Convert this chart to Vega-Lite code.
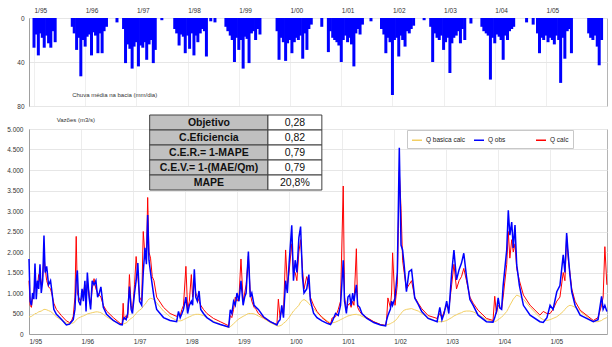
{
  "$schema": "https://vega.github.io/schema/vega-lite/v6.json",
  "background": "white",
  "padding": {"left": 6, "top": 6, "right": 3, "bottom": 1},
  "config": {
    "font": "Liberation Sans",
    "view": {"stroke": "#b4b4b4", "strokeWidth": 1},
    "axis": {"labelFont": "Liberation Sans", "labelFontSize": 6.5, "labelColor": "#333333", "ticks": false, "tickSize": 0, "domainColor": "#a0a0a0", "gridColor": "#e6e6e6", "gridWidth": 1, "labelOverlap": false, "labelBound": false, "labelFlush": false}
  },
  "spacing": 23,
  "bounds": "flush",
  "datasets": {
    "rain": [
      {"d":"1995-01-01","r":27},{"d":"1995-01-15","r":15},{"d":"1995-02-01","r":34},{"d":"1995-02-15","r":14},{"d":"1995-03-01","r":18},{"d":"1995-03-15","r":27},{"d":"1995-04-01","r":16},{"d":"1995-04-15","r":23},{"d":"1995-05-01","r":27},{"d":"1995-05-15","r":12},{"d":"1995-06-01","r":22},
      {"d":"1995-10-01","r":8},{"d":"1995-10-15","r":14},{"d":"1995-11-01","r":29},{"d":"1995-11-15","r":18},{"d":"1995-12-01","r":53},{"d":"1995-12-15","r":20},{"d":"1996-01-01","r":26},{"d":"1996-01-15","r":17},{"d":"1996-02-01","r":15},{"d":"1996-02-15","r":34},{"d":"1996-03-01","r":13},{"d":"1996-03-15","r":16},{"d":"1996-04-01","r":32},{"d":"1996-04-15","r":14},{"d":"1996-05-01","r":32},{"d":"1996-05-15","r":12},{"d":"1996-06-01","r":8},{"d":"1996-08-15","r":4},
      {"d":"1996-10-01","r":10},{"d":"1996-10-15","r":41},{"d":"1996-11-01","r":24},{"d":"1996-11-15","r":28},{"d":"1996-12-01","r":46},{"d":"1996-12-15","r":26},{"d":"1997-01-01","r":22},{"d":"1997-01-15","r":44},{"d":"1997-02-01","r":25},{"d":"1997-02-15","r":27},{"d":"1997-03-01","r":22},{"d":"1997-03-15","r":38},{"d":"1997-04-01","r":24},{"d":"1997-04-15","r":20},{"d":"1997-05-01","r":41},{"d":"1997-05-15","r":29},{"d":"1997-07-01","r":2},
      {"d":"1997-10-01","r":10},{"d":"1997-10-15","r":14},{"d":"1997-11-01","r":25},{"d":"1997-11-15","r":15},{"d":"1997-12-01","r":17},{"d":"1997-12-15","r":32},{"d":"1998-01-01","r":16},{"d":"1998-01-15","r":28},{"d":"1998-02-01","r":14},{"d":"1998-02-15","r":34},{"d":"1998-03-01","r":16},{"d":"1998-03-15","r":22},{"d":"1998-04-01","r":14},{"d":"1998-04-15","r":10},{"d":"1998-05-01","r":12},{"d":"1998-05-15","r":35},{"d":"1998-06-15","r":3},{"d":"1998-07-15","r":4},
      {"d":"1998-10-01","r":8},{"d":"1998-10-15","r":12},{"d":"1998-11-01","r":16},{"d":"1998-11-15","r":20},{"d":"1998-12-01","r":40},{"d":"1998-12-15","r":18},{"d":"1999-01-01","r":29},{"d":"1999-01-15","r":20},{"d":"1999-02-01","r":46},{"d":"1999-02-15","r":17},{"d":"1999-03-01","r":19},{"d":"1999-03-15","r":41},{"d":"1999-04-01","r":14},{"d":"1999-04-15","r":12},{"d":"1999-05-01","r":20},{"d":"1999-05-15","r":10},{"d":"1999-06-01","r":15},
      {"d":"1999-10-01","r":12},{"d":"1999-10-15","r":38},{"d":"1999-11-01","r":18},{"d":"1999-11-15","r":22},{"d":"1999-12-01","r":39},{"d":"1999-12-15","r":23},{"d":"2000-01-01","r":20},{"d":"2000-01-15","r":32},{"d":"2000-02-01","r":22},{"d":"2000-02-15","r":18},{"d":"2000-03-01","r":20},{"d":"2000-03-15","r":16},{"d":"2000-04-01","r":37},{"d":"2000-04-15","r":14},{"d":"2000-05-01","r":29},{"d":"2000-05-15","r":10},{"d":"2000-06-01","r":6},{"d":"2000-08-15","r":8},
      {"d":"2000-10-01","r":31},{"d":"2000-10-15","r":12},{"d":"2000-11-01","r":18},{"d":"2000-11-15","r":20},{"d":"2000-12-01","r":22},{"d":"2000-12-15","r":25},{"d":"2001-01-01","r":40},{"d":"2001-01-15","r":20},{"d":"2001-02-01","r":16},{"d":"2001-02-15","r":22},{"d":"2001-03-01","r":18},{"d":"2001-03-15","r":24},{"d":"2001-04-01","r":44},{"d":"2001-04-15","r":14},{"d":"2001-05-01","r":10},{"d":"2001-05-15","r":15},{"d":"2001-06-01","r":6},{"d":"2001-08-01","r":3},
      {"d":"2001-10-15","r":10},{"d":"2001-11-01","r":15},{"d":"2001-11-15","r":32},{"d":"2001-12-01","r":18},{"d":"2001-12-15","r":22},{"d":"2002-01-01","r":70},{"d":"2002-01-15","r":20},{"d":"2002-02-01","r":18},{"d":"2002-02-15","r":35},{"d":"2002-03-01","r":16},{"d":"2002-03-15","r":20},{"d":"2002-04-01","r":26},{"d":"2002-04-15","r":12},{"d":"2002-05-01","r":14},{"d":"2002-05-15","r":10},{"d":"2002-06-01","r":7},{"d":"2002-08-15","r":2},
      {"d":"2002-10-01","r":8},{"d":"2002-10-15","r":40},{"d":"2002-11-01","r":14},{"d":"2002-11-15","r":18},{"d":"2002-12-01","r":20},{"d":"2002-12-15","r":16},{"d":"2003-01-01","r":29},{"d":"2003-01-15","r":22},{"d":"2003-02-01","r":18},{"d":"2003-02-15","r":50},{"d":"2003-03-01","r":23},{"d":"2003-03-15","r":18},{"d":"2003-04-01","r":16},{"d":"2003-04-15","r":12},{"d":"2003-05-01","r":23},{"d":"2003-05-15","r":10},{"d":"2003-06-01","r":20},{"d":"2003-07-15","r":5},
      {"d":"2003-10-01","r":8},{"d":"2003-10-15","r":12},{"d":"2003-11-01","r":14},{"d":"2003-11-15","r":16},{"d":"2003-12-01","r":56},{"d":"2003-12-15","r":18},{"d":"2004-01-01","r":23},{"d":"2004-01-15","r":15},{"d":"2004-02-01","r":17},{"d":"2004-02-15","r":20},{"d":"2004-03-01","r":38},{"d":"2004-03-15","r":16},{"d":"2004-04-01","r":20},{"d":"2004-04-15","r":12},{"d":"2004-05-01","r":10},{"d":"2004-05-15","r":8},{"d":"2004-08-15","r":4},{"d":"2004-10-01","r":6},
      {"d":"2004-11-01","r":14},{"d":"2004-11-15","r":32},{"d":"2004-12-01","r":18},{"d":"2004-12-15","r":20},{"d":"2005-01-01","r":16},{"d":"2005-01-15","r":22},{"d":"2005-02-01","r":18},{"d":"2005-02-15","r":20},{"d":"2005-03-01","r":24},{"d":"2005-03-15","r":16},{"d":"2005-04-01","r":20},{"d":"2005-04-15","r":59},{"d":"2005-05-01","r":18},{"d":"2005-05-15","r":37},{"d":"2005-06-01","r":12},{"d":"2005-06-15","r":10},{"d":"2005-07-01","r":32},
      {"d":"2005-11-01","r":14},{"d":"2005-11-15","r":18},{"d":"2005-12-01","r":20},{"d":"2005-12-15","r":16},{"d":"2006-01-01","r":26},{"d":"2006-01-15","r":43},{"d":"2006-02-01","r":20}
    ],
    "flow": [
      {"d":"1995-01-01","o":1830,"c":1300,"b":420},{"d":"1995-01-09","o":800,"c":700,"b":420},{"d":"1995-01-18","o":700,"c":650,"b":430},{"d":"1995-01-26","o":1000,"c":900,"b":450},{"d":"1995-02-04","o":850,"c":1000,"b":470},{"d":"1995-02-12","o":1720,"c":1300,"b":500},{"d":"1995-02-21","o":850,"c":1100,"b":500},{"d":"1995-03-01","o":1300,"c":1150,"b":520},{"d":"1995-03-10","o":1100,"c":1450,"b":540},{"d":"1995-03-19","o":1700,"c":1300,"b":550},{"d":"1995-03-28","o":1000,"c":1200,"b":560},{"d":"1995-04-07","o":1300,"c":1400,"b":580},{"d":"1995-04-16","o":2400,"c":1900,"b":600},{"d":"1995-04-24","o":1500,"c":1600,"b":600},{"d":"1995-05-05","o":1650,"c":1300,"b":590},{"d":"1995-05-18","o":1200,"c":1150,"b":570},{"d":"1995-06-01","o":1300,"c":1100,"b":550},{"d":"1995-06-12","o":1000,"c":950,"b":520},{"d":"1995-06-24","o":600,"c":750,"b":480},{"d":"1995-07-12","o":480,"c":600,"b":420},{"d":"1995-08-16","o":360,"c":450,"b":340},{"d":"1995-09-20","o":220,"c":320,"b":270},{"d":"1995-10-12","o":240,"c":280,"b":250},
      {"d":"1995-10-26","o":300,"c":320,"b":260},{"d":"1995-11-07","o":350,"c":430,"b":270},{"d":"1995-11-19","o":600,"c":900,"b":300},{"d":"1995-11-28","o":1300,"c":2380,"b":340},{"d":"1995-12-06","o":1550,"c":1000,"b":370},{"d":"1995-12-15","o":800,"c":900,"b":390},{"d":"1995-12-27","o":700,"c":800,"b":410},{"d":"1996-01-08","o":1100,"c":900,"b":430},{"d":"1996-01-17","o":800,"c":1000,"b":440},{"d":"1996-01-28","o":1300,"c":1200,"b":460},{"d":"1996-02-05","o":550,"c":700,"b":470},{"d":"1996-02-14","o":1500,"c":1300,"b":490},{"d":"1996-02-26","o":900,"c":1000,"b":500},{"d":"1996-03-08","o":600,"c":700,"b":510},{"d":"1996-03-19","o":1300,"c":1100,"b":520},{"d":"1996-04-01","o":1200,"c":1350,"b":530},{"d":"1996-04-14","o":1300,"c":1100,"b":540},{"d":"1996-04-26","o":900,"c":1000,"b":540},{"d":"1996-05-08","o":1000,"c":950,"b":530},{"d":"1996-05-19","o":1150,"c":900,"b":520},{"d":"1996-06-05","o":650,"c":700,"b":480},{"d":"1996-06-28","o":480,"c":560,"b":420},{"d":"1996-08-14","o":330,"c":400,"b":320},{"d":"1996-10-01","o":230,"c":260,"b":250},{"d":"1996-10-15","o":220,"c":240,"b":230},
      {"d":"1996-10-22","o":350,"c":750,"b":240},{"d":"1996-10-28","o":400,"c":350,"b":250},{"d":"1996-11-12","o":350,"c":450,"b":270},{"d":"1996-11-23","o":500,"c":400,"b":300},{"d":"1996-12-05","o":1160,"c":1450,"b":350},{"d":"1996-12-17","o":600,"c":700,"b":380},{"d":"1996-12-26","o":500,"c":550,"b":400},{"d":"1997-01-10","o":1000,"c":1200,"b":450},{"d":"1997-01-21","o":1300,"c":1890,"b":500},{"d":"1997-02-02","o":1730,"c":1400,"b":550},{"d":"1997-02-14","o":800,"c":900,"b":580},{"d":"1997-03-01","o":700,"c":800,"b":620},{"d":"1997-03-12","o":1500,"c":2500,"b":680},{"d":"1997-03-24","o":2100,"c":1900,"b":720},{"d":"1997-04-03","o":1700,"c":1800,"b":770},{"d":"1997-04-12","o":2900,"c":3330,"b":820},{"d":"1997-04-21","o":1800,"c":2000,"b":850},{"d":"1997-05-02","o":1500,"c":1850,"b":870},{"d":"1997-05-14","o":1200,"c":1400,"b":860},{"d":"1997-05-26","o":900,"c":1300,"b":840},{"d":"1997-06-14","o":600,"c":900,"b":760},{"d":"1997-08-01","o":400,"c":650,"b":560},{"d":"1997-09-16","o":330,"c":500,"b":420},{"d":"1997-11-01","o":300,"c":430,"b":330},
      {"d":"1997-11-14","o":550,"c":500,"b":320},{"d":"1997-11-26","o":400,"c":450,"b":320},{"d":"1997-12-08","o":500,"c":600,"b":330},{"d":"1997-12-19","o":600,"c":700,"b":350},{"d":"1998-01-05","o":900,"c":1650,"b":380},{"d":"1998-01-17","o":500,"c":600,"b":400},{"d":"1998-01-29","o":700,"c":800,"b":420},{"d":"1998-02-12","o":800,"c":1450,"b":440},{"d":"1998-02-21","o":700,"c":900,"b":460},{"d":"1998-03-05","o":1580,"c":1300,"b":470},{"d":"1998-03-15","o":900,"c":1000,"b":480},{"d":"1998-03-26","o":800,"c":900,"b":480},{"d":"1998-04-07","o":1050,"c":800,"b":480},{"d":"1998-04-19","o":600,"c":700,"b":470},{"d":"1998-05-08","o":500,"c":600,"b":450},{"d":"1998-06-01","o":400,"c":500,"b":400},{"d":"1998-07-17","o":290,"c":380,"b":310},{"d":"1998-09-03","o":230,"c":300,"b":240},{"d":"1998-11-01","o":170,"c":200,"b":160},
      {"d":"1998-11-12","o":590,"c":450,"b":180},{"d":"1998-11-23","o":500,"c":400,"b":210},{"d":"1998-12-05","o":800,"c":600,"b":250},{"d":"1998-12-17","o":700,"c":900,"b":290},{"d":"1998-12-29","o":1000,"c":800,"b":330},{"d":"1999-01-12","o":800,"c":900,"b":370},{"d":"1999-01-26","o":1300,"c":1830,"b":400},{"d":"1999-02-10","o":700,"c":800,"b":430},{"d":"1999-02-21","o":900,"c":1000,"b":450},{"d":"1999-03-03","o":1000,"c":1200,"b":470},{"d":"1999-03-19","o":2010,"c":1900,"b":500},{"d":"1999-04-01","o":900,"c":1000,"b":500},{"d":"1999-04-12","o":1000,"c":800,"b":500},{"d":"1999-04-28","o":700,"c":650,"b":490},{"d":"1999-05-12","o":650,"c":600,"b":470},{"d":"1999-05-28","o":600,"c":500,"b":440},{"d":"1999-07-03","o":420,"c":400,"b":380},{"d":"1999-08-19","o":300,"c":300,"b":280},{"d":"1999-10-05","o":220,"c":230,"b":200},
      {"d":"1999-10-15","o":300,"c":850,"b":190},{"d":"1999-10-27","o":350,"c":400,"b":200},{"d":"1999-11-08","o":700,"c":600,"b":220},{"d":"1999-11-20","o":400,"c":500,"b":260},{"d":"1999-12-05","o":1300,"c":2050,"b":300},{"d":"1999-12-17","o":1000,"c":1200,"b":350},{"d":"1999-12-29","o":1700,"c":1500,"b":400},{"d":"2000-01-17","o":2650,"c":2200,"b":500},{"d":"2000-01-29","o":1300,"c":1500,"b":560},{"d":"2000-02-10","o":1800,"c":1500,"b":600},{"d":"2000-02-22","o":1500,"c":1300,"b":650},{"d":"2000-03-07","o":2350,"c":2000,"b":700},{"d":"2000-03-19","o":2620,"c":2300,"b":780},{"d":"2000-04-01","o":1400,"c":1600,"b":820},{"d":"2000-04-12","o":1000,"c":1100,"b":840},{"d":"2000-05-01","o":1100,"c":1400,"b":800},{"d":"2000-05-16","o":1450,"c":1200,"b":740},{"d":"2000-05-26","o":840,"c":900,"b":700},{"d":"2000-06-18","o":510,"c":700,"b":620},{"d":"2000-07-12","o":400,"c":550,"b":520},{"d":"2000-08-16","o":320,"c":400,"b":420},{"d":"2000-09-21","o":260,"c":300,"b":320},{"d":"2000-10-15","o":230,"c":240,"b":270},
      {"d":"2000-10-26","o":300,"c":390,"b":270},{"d":"2000-11-19","o":500,"c":420,"b":290},{"d":"2000-12-08","o":450,"c":600,"b":320},{"d":"2000-12-24","o":700,"c":800,"b":350},{"d":"2001-01-12","o":1800,"c":3610,"b":380},{"d":"2001-01-21","o":800,"c":900,"b":400},{"d":"2001-02-03","o":500,"c":600,"b":420},{"d":"2001-02-14","o":900,"c":700,"b":440},{"d":"2001-02-26","o":950,"c":750,"b":450},{"d":"2001-03-08","o":700,"c":650,"b":460},{"d":"2001-03-19","o":1000,"c":800,"b":470},{"d":"2001-03-28","o":800,"c":700,"b":475},{"d":"2001-04-14","o":1200,"c":2080,"b":480},{"d":"2001-04-23","o":700,"c":650,"b":470},{"d":"2001-05-07","o":650,"c":550,"b":460},{"d":"2001-05-23","o":500,"c":480,"b":430},{"d":"2001-06-27","o":380,"c":400,"b":380},{"d":"2001-08-14","o":280,"c":300,"b":300},{"d":"2001-10-01","o":220,"c":230,"b":230},{"d":"2001-11-05","o":200,"c":210,"b":200},
      {"d":"2001-11-12","o":340,"c":350,"b":220},{"d":"2001-11-21","o":450,"c":880,"b":230},{"d":"2001-12-08","o":600,"c":650,"b":250},{"d":"2001-12-17","o":800,"c":1000,"b":270},{"d":"2001-12-24","o":700,"c":1980,"b":280},{"d":"2002-01-10","o":880,"c":700,"b":320},{"d":"2002-01-26","o":1500,"c":1200,"b":380},{"d":"2002-02-09","o":4540,"c":3960,"b":450},{"d":"2002-02-21","o":2170,"c":3070,"b":500},{"d":"2002-03-04","o":2050,"c":1800,"b":550},{"d":"2002-03-15","o":1680,"c":1500,"b":580},{"d":"2002-03-31","o":1030,"c":1100,"b":600},{"d":"2002-04-18","o":1520,"c":1200,"b":610},{"d":"2002-05-06","o":1570,"c":1300,"b":620},{"d":"2002-05-28","o":880,"c":900,"b":590},{"d":"2002-06-22","o":720,"c":750,"b":560},{"d":"2002-07-16","o":550,"c":620,"b":500},{"d":"2002-08-30","o":380,"c":450,"b":400},{"d":"2002-11-01","o":300,"c":380,"b":300},
      {"d":"2002-11-20","o":650,"c":500,"b":300},{"d":"2002-12-05","o":350,"c":400,"b":300},{"d":"2002-12-20","o":500,"c":550,"b":310},{"d":"2003-01-07","o":800,"c":700,"b":330},{"d":"2003-01-22","o":500,"c":600,"b":360},{"d":"2003-02-11","o":1490,"c":1200,"b":400},{"d":"2003-02-27","o":2050,"c":1700,"b":440},{"d":"2003-03-17","o":1320,"c":1100,"b":470},{"d":"2003-04-04","o":1570,"c":1300,"b":500},{"d":"2003-04-21","o":1730,"c":1400,"b":520},{"d":"2003-05-07","o":1970,"c":1600,"b":550},{"d":"2003-05-26","o":1400,"c":1300,"b":560},{"d":"2003-06-19","o":840,"c":900,"b":560},{"d":"2003-07-12","o":700,"c":750,"b":540},{"d":"2003-08-15","o":460,"c":580,"b":480},{"d":"2003-10-13","o":300,"c":380,"b":350},{"d":"2003-11-28","o":290,"c":330,"b":300},
      {"d":"2003-12-10","o":400,"c":920,"b":300},{"d":"2003-12-22","o":550,"c":500,"b":320},{"d":"2004-01-03","o":880,"c":700,"b":350},{"d":"2004-01-15","o":630,"c":650,"b":380},{"d":"2004-01-27","o":600,"c":600,"b":410},{"d":"2004-02-07","o":1180,"c":900,"b":450},{"d":"2004-03-03","o":2050,"c":1700,"b":550},{"d":"2004-03-14","o":3020,"c":2500,"b":620},{"d":"2004-03-25","o":2410,"c":1850,"b":700},{"d":"2004-04-07","o":2730,"c":2300,"b":780},{"d":"2004-04-18","o":2100,"c":2000,"b":850},{"d":"2004-04-30","o":2660,"c":2200,"b":900},{"d":"2004-05-12","o":1690,"c":1600,"b":950},{"d":"2004-05-31","o":1180,"c":1300,"b":920},{"d":"2004-06-28","o":700,"c":950,"b":850},{"d":"2004-08-14","o":460,"c":700,"b":650},{"d":"2004-10-22","o":300,"c":460,"b":400},{"d":"2004-11-14","o":280,"c":550,"b":350},
      {"d":"2004-12-10","o":400,"c":500,"b":330},{"d":"2005-01-01","o":700,"c":500,"b":350},{"d":"2005-01-22","o":600,"c":600,"b":380},{"d":"2005-02-17","o":1030,"c":800,"b":420},{"d":"2005-03-11","o":1180,"c":900,"b":480},{"d":"2005-04-03","o":1930,"c":1500,"b":550},{"d":"2005-04-15","o":1500,"c":1300,"b":600},{"d":"2005-04-27","o":2460,"c":2400,"b":650},{"d":"2005-05-09","o":1900,"c":1800,"b":680},{"d":"2005-05-20","o":1440,"c":1500,"b":700},{"d":"2005-06-02","o":1030,"c":1100,"b":690},{"d":"2005-06-25","o":700,"c":800,"b":650},{"d":"2005-07-31","o":460,"c":580,"b":550},{"d":"2005-10-31","o":300,"c":330,"b":300},
      {"d":"2005-12-03","o":350,"c":400,"b":300},{"d":"2005-12-28","o":920,"c":700,"b":330},{"d":"2006-01-08","o":600,"c":900,"b":360},{"d":"2006-01-20","o":700,"c":2130,"b":380},{"d":"2006-02-03","o":550,"c":1200,"b":400}
    ],
    "tab": [
      {"k":"Objetivo","v":"0,28"},
      {"k":"C.Eficiencia","v":"0,82"},
      {"k":"C.E.R.= 1-MAPE","v":"0,79"},
      {"k":"C.E.V.= 1-(MAE/Qm)","v":"0,79"},
      {"k":"MAPE","v":"20,8%"}
    ]
  },
  "vconcat": [
    {
      "width": 578,
      "height": 88,
      "layer": [
        {
          "data": {"name": "rain"},
          "mark": {"type": "bar", "color": "#0000ff", "size": 3},
          "encoding": {
            "x": {
              "field": "d", "type": "temporal", "title": null,
              "scale": {"type": "utc", "domain": [{"year": 1995, "month": 1, "date": 1, "utc": true}, {"year": 2006, "month": 2, "date": 4, "utc": true}]},
              "axis": {"orient": "top", "labelExpr": "utcFormat(datum.value, '%-m/%y')", "labelAlign": "left", "labelPadding": 5, "grid": true, "gridColor": "#efefef", "domain": false,
                "values": [{"year":1995,"month":1,"date":1,"utc":true},{"year":1996,"month":1,"date":1,"utc":true},{"year":1997,"month":1,"date":1,"utc":true},{"year":1998,"month":1,"date":1,"utc":true},{"year":1999,"month":1,"date":1,"utc":true},{"year":2000,"month":1,"date":1,"utc":true},{"year":2001,"month":1,"date":1,"utc":true},{"year":2002,"month":1,"date":1,"utc":true},{"year":2003,"month":1,"date":1,"utc":true},{"year":2004,"month":1,"date":1,"utc":true},{"year":2005,"month":1,"date":1,"utc":true}]}
            },
            "y": {
              "field": "r", "type": "quantitative", "title": null,
              "scale": {"domain": [0, 80], "reverse": true, "nice": false},
              "axis": {"values": [0, 20, 40, 60, 80], "labelPadding": 5, "grid": true}
            }
          }
        },
        {
          "data": {"values": [{}]},
          "mark": {"type": "text", "align": "left", "baseline": "middle", "fontSize": 6, "color": "#333333"},
          "encoding": {
            "x": {"datum": {"year": 1995, "month": 9, "date": 30, "utc": true}, "type": "temporal", "scale": {"type": "utc"}},
            "y": {"datum": 70, "type": "quantitative"},
            "text": {"value": "Chuva média na bacia (mm/dia)"}
          }
        }
      ]
    },
    {
      "width": 578,
      "height": 205,
      "layer": [
        {
          "layer": [
            {
              "data": {"name": "flow"},
              "transform": [{"fold": ["b", "c", "o"], "as": ["s", "q"]}],
              "mark": {"type": "line", "interpolate": "linear"},
              "encoding": {
                "x": {
                  "field": "d", "type": "temporal", "title": null,
                  "scale": {"type": "utc", "domain": [{"year": 1995, "month": 1, "date": 1, "utc": true}, {"year": 2006, "month": 2, "date": 4, "utc": true}]},
                  "axis": {"orient": "bottom", "labelExpr": "utcFormat(datum.value, '%-m/%y')", "labelAlign": "left", "labelPadding": 4, "grid": true, "gridColor": "#ececec",
                    "values": [{"year":1995,"month":1,"date":1,"utc":true},{"year":1996,"month":1,"date":1,"utc":true},{"year":1997,"month":1,"date":1,"utc":true},{"year":1998,"month":1,"date":1,"utc":true},{"year":1999,"month":1,"date":1,"utc":true},{"year":2000,"month":1,"date":1,"utc":true},{"year":2001,"month":1,"date":1,"utc":true},{"year":2002,"month":1,"date":1,"utc":true},{"year":2003,"month":1,"date":1,"utc":true},{"year":2004,"month":1,"date":1,"utc":true},{"year":2005,"month":1,"date":1,"utc":true}]}
                },
                "y": {
                  "field": "q", "type": "quantitative", "title": null,
                  "scale": {"domain": [0, 5000], "nice": false},
                  "axis": {"values": [0, 500, 1000, 1500, 2000, 2500, 3000, 3500, 4000, 4500, 5000], "tickCount": 11, "labelExpr": "replace(format(datum.value, ','), ',', '.')", "labelPadding": 6, "grid": true}
                },
                "color": {
                  "field": "s", "type": "nominal",
                  "scale": {"domain": ["b", "o", "c"], "range": ["#f3cf62", "#0000ff", "#ff0000"]},
                  "legend": {"orient": "none", "legendX": 378, "legendY": 112, "direction": "horizontal", "columns": 3, "title": null,
                    "labelExpr": "datum.label == 'b' ? 'Q basica calc' : (datum.label == 'o' ? 'Q obs' : 'Q calc')",
                    "symbolType": "stroke", "symbolSize": 100, "symbolStrokeWidth": 1.5, "labelFontSize": 6.5, "labelFont": "Liberation Sans", "labelColor": "#222222",
                    "padding": 4, "strokeColor": "#c8c8c8", "fillColor": "white", "columnPadding": 5, "gridAlign": "all", "labelOffset": 3}
                },
                "strokeWidth": {"condition": {"test": "datum.s == 'o'", "value": 1.5}, "value": 1}
              }
            },
            {
              "data": {"values": [{}]},
              "mark": {"type": "text", "align": "center", "baseline": "middle", "fontSize": 6, "color": "#333333"},
              "encoding": {
                "x": {"datum": {"year": 1995, "month": 11, "date": 25, "utc": true}, "type": "temporal", "scale": {"type": "utc"}},
                "y": {"datum": 5220, "type": "quantitative", "axis": {"values": [0, 500, 1000, 1500, 2000, 2500, 3000, 3500, 4000, 4500, 5000], "tickCount": 11, "labelExpr": "replace(format(datum.value, ','), ',', '.')", "labelPadding": 6, "grid": true}},
                "text": {"value": "Vazões (m3/s)"}
              }
            }
          ]
        },
        {
          "data": {"name": "tab"},
          "mark": {"type": "rect", "fill": "#c0c0c0", "stroke": "#404040", "strokeWidth": 1},
          "encoding": {
            "x": {"datum": {"year": 1997, "month": 4, "date": 26, "utc": true}, "type": "temporal", "scale": {"type": "utc"}},
            "x2": {"datum": {"year": 1999, "month": 8, "date": 3, "utc": true}},
            "y": {"field": "k", "type": "nominal", "sort": null, "axis": null, "scale": {"type": "band", "domain": ["Objetivo", "C.Eficiencia", "C.E.R.= 1-MAPE", "C.E.V.= 1-(MAE/Qm)", "MAPE"], "range": [-14, 61], "paddingInner": 0, "paddingOuter": 0}}
          }
        },
        {
          "data": {"name": "tab"},
          "mark": {"type": "rect", "fill": "white", "stroke": "#404040", "strokeWidth": 1},
          "encoding": {
            "x": {"datum": {"year": 1999, "month": 8, "date": 3, "utc": true}, "type": "temporal", "scale": {"type": "utc"}},
            "x2": {"datum": {"year": 2000, "month": 8, "date": 15, "utc": true}},
            "y": {"field": "k", "type": "nominal", "sort": null, "axis": null, "scale": {"type": "band", "domain": ["Objetivo", "C.Eficiencia", "C.E.R.= 1-MAPE", "C.E.V.= 1-(MAE/Qm)", "MAPE"], "range": [-14, 61], "paddingInner": 0, "paddingOuter": 0}}
          }
        },
        {
          "data": {"name": "tab"},
          "mark": {"type": "text", "fontWeight": "bold", "fontSize": 10.5, "font": "Liberation Sans", "color": "#111111", "baseline": "middle", "align": "center"},
          "encoding": {
            "x": {"datum": {"year": 1998, "month": 6, "date": 15, "utc": true}, "type": "temporal", "scale": {"type": "utc"}},
            "y": {"field": "k", "type": "nominal", "sort": null, "axis": null, "scale": {"type": "band", "domain": ["Objetivo", "C.Eficiencia", "C.E.R.= 1-MAPE", "C.E.V.= 1-(MAE/Qm)", "MAPE"], "range": [-14, 61], "paddingInner": 0, "paddingOuter": 0}},
            "text": {"field": "k"}
          }
        },
        {
          "data": {"name": "tab"},
          "mark": {"type": "text", "fontSize": 10.5, "font": "Liberation Sans", "color": "#111111", "baseline": "middle", "align": "center"},
          "encoding": {
            "x": {"datum": {"year": 2000, "month": 2, "date": 8, "utc": true}, "type": "temporal", "scale": {"type": "utc"}},
            "y": {"field": "k", "type": "nominal", "sort": null, "axis": null, "scale": {"type": "band", "domain": ["Objetivo", "C.Eficiencia", "C.E.R.= 1-MAPE", "C.E.V.= 1-(MAE/Qm)", "MAPE"], "range": [-14, 61], "paddingInner": 0, "paddingOuter": 0}},
            "text": {"field": "v"}
          }
        }
      ],
      "resolve": {"scale": {"y": "independent"}}
    }
  ]
}
